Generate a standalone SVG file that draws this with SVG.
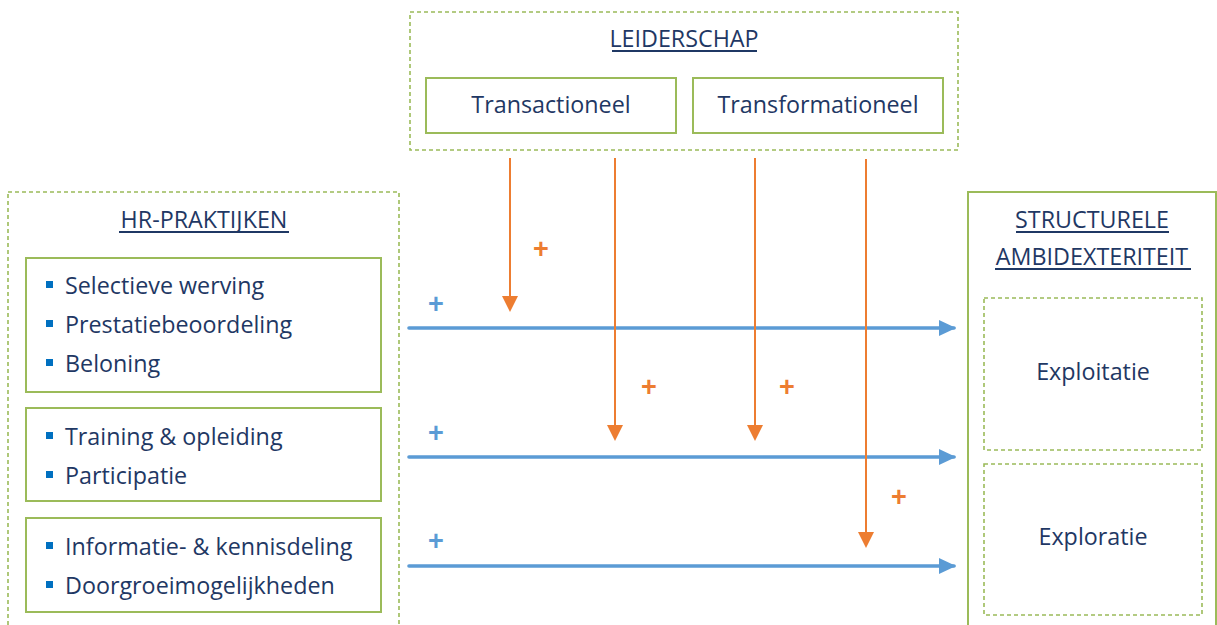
<svg xmlns="http://www.w3.org/2000/svg" width="1217" height="625" viewBox="0 0 1217 625">
  <style>
    .dash { fill: none; stroke: #9BBB59; stroke-width: 1.6; stroke-dasharray: 4 3; }
    .solid { fill: #fff; stroke: #9BBB59; stroke-width: 2; }
    .t { font-family: "Open Sans", "Liberation Sans", sans-serif; font-size: 23.3px; fill: #1F3864; }
    .c { text-anchor: middle; }
    .ul { stroke: #1F3864; stroke-width: 1.8; }
    .bul { fill: #0070C0; }
    .blue { stroke: #5B9BD5; stroke-width: 3.6; stroke-linecap: round; fill: none; }
    .orange { stroke: #ED7D31; stroke-width: 2; fill: none; }
    .pb { font-family: "Liberation Sans", Arial, sans-serif; font-size: 27px; font-weight: bold; fill: #5B9BD5; text-anchor: middle; }
    .po { font-family: "Liberation Sans", Arial, sans-serif; font-size: 27px; font-weight: bold; fill: #ED7D31; text-anchor: middle; }
  </style>
  <defs>
    <marker id="ab" markerUnits="userSpaceOnUse" markerWidth="17" markerHeight="16" refX="15" refY="8" orient="auto">
      <path d="M0,0 L17,8 L0,16 Z" fill="#5B9BD5"/>
    </marker>
    <marker id="ao" markerUnits="userSpaceOnUse" markerWidth="16" markerHeight="16" refX="14" refY="8" orient="auto">
      <path d="M0,0 L16,8 L0,16 Z" fill="#ED7D31"/>
    </marker>
  </defs>
  <rect width="1217" height="625" fill="#fff"/>

  <!-- leadership -->
  <g id="leiderschap">
    <rect class="dash" x="410" y="12" width="548" height="138"/>
    <text class="t c" x="684" y="47">LEIDERSCHAP</text>
    <line class="ul" x1="612" y1="51" x2="757" y2="51"/>
  </g>
  <g id="transactioneel">
    <rect class="solid" x="426" y="78" width="250" height="55"/>
    <text class="t c" x="551" y="113">Transactioneel</text>
  </g>
  <g id="transformationeel">
    <rect class="solid" x="693" y="78" width="250" height="55"/>
    <text class="t c" x="818" y="113">Transformationeel</text>
  </g>

  <!-- HR practices -->
  <g id="hr-praktijken">
    <rect class="dash" x="8" y="192" width="391" height="445"/>
    <text class="t c" x="204" y="228">HR-PRAKTIJKEN</text>
    <line class="ul" x1="119" y1="232" x2="289" y2="232"/>
  </g>
  <g id="hr-groep-1">
    <rect class="solid" x="26" y="258" width="355" height="134"/>
    <rect class="bul" x="46" y="281" width="7" height="7"/>
    <text class="t" x="65" y="294">Selectieve werving</text>
    <rect class="bul" x="46" y="320" width="7" height="7"/>
    <text class="t" x="65" y="333">Prestatiebeoordeling</text>
    <rect class="bul" x="46" y="359" width="7" height="7"/>
    <text class="t" x="65" y="372">Beloning</text>
  </g>
  <g id="hr-groep-2">
    <rect class="solid" x="26" y="408" width="355" height="93"/>
    <rect class="bul" x="46" y="432" width="7" height="7"/>
    <text class="t" x="65" y="445">Training &amp; opleiding</text>
    <rect class="bul" x="46" y="471" width="7" height="7"/>
    <text class="t" x="65" y="484">Participatie</text>
  </g>
  <g id="hr-groep-3">
    <rect class="solid" x="26" y="518" width="355" height="94"/>
    <rect class="bul" x="46" y="542" width="7" height="7"/>
    <text class="t" x="65" y="555">Informatie- &amp; kennisdeling</text>
    <rect class="bul" x="46" y="581" width="7" height="7"/>
    <text class="t" x="65" y="594">Doorgroeimogelijkheden</text>
  </g>

  <!-- structural ambidexterity -->
  <g id="ambidexteriteit">
    <rect class="solid" x="968" y="192" width="248" height="445"/>
    <text class="t c" x="1092" y="228">STRUCTURELE</text>
    <line class="ul" x1="1016" y1="232" x2="1169" y2="232"/>
    <text class="t c" x="1092" y="265">AMBIDEXTERITEIT</text>
    <line class="ul" x1="995" y1="269" x2="1191" y2="269"/>
  </g>
  <g id="exploitatie">
    <rect class="dash" x="984" y="298" width="218" height="152"/>
    <text class="t c" x="1093" y="380">Exploitatie</text>
  </g>
  <g id="exploratie">
    <rect class="dash" x="984" y="464" width="218" height="151"/>
    <text class="t c" x="1093" y="545">Exploratie</text>
  </g>

  <!-- connectors -->
  <g id="connectors">
    <line class="blue" x1="409" y1="328" x2="954" y2="328" marker-end="url(#ab)"/>
    <line class="blue" x1="409" y1="457" x2="954" y2="457" marker-end="url(#ab)"/>
    <line class="blue" x1="409" y1="566" x2="954" y2="566" marker-end="url(#ab)"/>
    <line class="orange" x1="510" y1="158" x2="510" y2="310" marker-end="url(#ao)"/>
    <line class="orange" x1="615" y1="158" x2="615" y2="439" marker-end="url(#ao)"/>
    <line class="orange" x1="755" y1="158" x2="755" y2="439" marker-end="url(#ao)"/>
    <line class="orange" x1="866" y1="159" x2="866" y2="546" marker-end="url(#ao)"/>
    <text class="pb" x="436" y="313">+</text>
    <text class="pb" x="436" y="442">+</text>
    <text class="pb" x="436" y="550">+</text>
    <text class="po" x="541" y="258">+</text>
    <text class="po" x="649" y="396">+</text>
    <text class="po" x="787" y="396">+</text>
    <text class="po" x="899" y="506">+</text>
  </g>
</svg>
